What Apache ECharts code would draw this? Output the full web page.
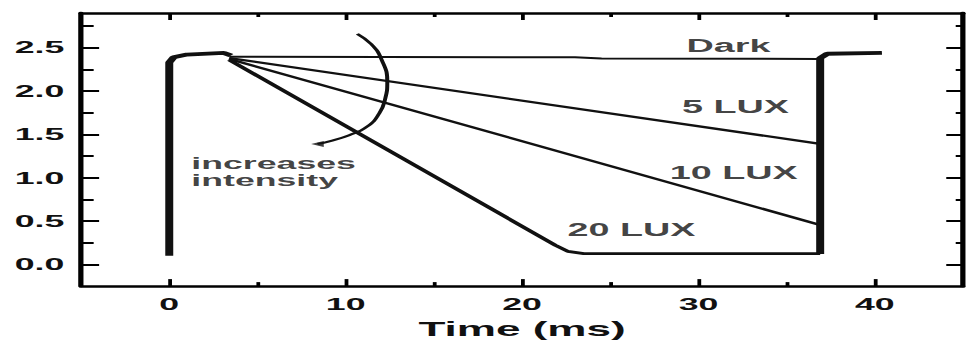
<!DOCTYPE html>
<html><head><meta charset="utf-8">
<script src="https://cdn.jsdelivr.net/npm/echarts@6/dist/echarts.min.js"></script>
<style>
html,body{margin:0;padding:0;background:#fff;overflow:hidden;}
#wrap{width:966px;height:344px;overflow:hidden;}
#chart{width:460px;height:344px;transform:scaleX(2.1);transform-origin:0 0;}
</style></head>
<body><div id="wrap"><div id="chart"></div></div>
<script>
// ---- axis ticks / labels ----
const xMajor = [0, 10, 20, 30, 40];
const xMinor = [5, 15, 25, 35];
const yMajor = [0, 0.5, 1, 1.5, 2, 2.5];
const yMinor = [0.25, 0.75, 1.25, 1.75, 2.25, 2.75];

// ---- traces (Time ms, signal) ----
const riseX = [0, 0, 0.25, 1.0, 3.1, 3.5];
const riseY = [0.1, 2.33, 2.39, 2.42, 2.44, 2.41];
const darkX = [3.4, 23.0, 24.5, 36.9];
const darkY = [2.395, 2.39, 2.375, 2.37];
const lux5X = [3.4, 36.9];
const lux5Y = [2.38, 1.39];
const lux10X = [3.4, 36.9];
const lux10Y = [2.37, 0.455];
const lux20X = [3.4, 21.9, 22.6, 23.5, 36.9];
const lux20Y = [2.36, 0.22, 0.15, 0.125, 0.125];
const fallX = [36.9, 36.9, 37.3, 40.4];
const fallY = [0.12, 2.38, 2.43, 2.44];

// ---- "increases intensity" curved arrow ----
const arcX = [10.66, 11.45, 12.02, 12.36, 12.24, 11.9, 11.22, 10.2, 9.07, 8.4];
const arcY = [2.66, 2.54, 2.37, 2.105, 1.91, 1.74, 1.59, 1.49, 1.42, 1.39];

// ---- text annotations ----
const noteText = ['Dark', '5 LUX', '10 LUX', '20 LUX'];
const noteX = [31.7, 32.1, 32.0, 26.2];
const noteY = [2.52, 1.816, 1.06, 0.40];
const introText = ['increases', 'intensity'];
const introX = [1.25, 1.25];
const introY = [1.17, 0.975];

const zip = (a, b) => a.map((v, i) => [v, b[i]]);
const FONT = 'Liberation Sans, Arial, sans-serif';
const INK = '#111';

function xAx(pos, ticks, len, showLine, labels) {
  return {
    type: 'value', position: pos, min: -5, max: 45,
    axisLine: { show: showLine, onZero: false, lineStyle: { color: '#000', width: 2.5 } },
    axisTick: { show: true, inside: true, length: len, customValues: ticks, lineStyle: { color: '#000', width: 1.8 } },
    axisLabel: labels ? { show: true, customValues: ticks, fontSize: 17, fontWeight: 'bold', fontFamily: FONT, color: INK, margin: 10 } : { show: false },
    splitLine: { show: false },
    name: labels ? 'Time (ms)' : '',
    nameLocation: 'middle', nameGap: 27,
    nameTextStyle: { fontSize: 21, fontWeight: 'bold', fontFamily: FONT, color: INK }
  };
}
function yAx(pos, ticks, len, showLine, labels) {
  return {
    type: 'value', position: pos, min: -0.25, max: 2.9,
    axisLine: { show: showLine, onZero: false, lineStyle: { color: '#000', width: 2.5 } },
    axisTick: { show: true, inside: true, length: len, customValues: ticks, lineStyle: { color: '#000', width: 2 } },
    axisLabel: labels ? { show: true, customValues: ticks, formatter: v => v.toFixed(1), fontSize: 17, fontWeight: 'bold', fontFamily: FONT, color: INK, margin: 8 } : { show: false },
    splitLine: { show: false }
  };
}
function trace(name, xs, ys, w) {
  return { name, type: 'line', data: zip(xs, ys), symbol: 'none', lineStyle: { color: INK, width: w }, z: 3, animation: false };
}

const chart = echarts.init(document.getElementById('chart'), null, { renderer: 'svg' });
chart.setOption({
  animation: false,
  backgroundColor: '#fff',
  grid: { left: 38.6, right: 1.4, top: 13, bottom: 54, containLabel: false },
  xAxis: [
    xAx('bottom', xMajor, 7, true, true),
    xAx('bottom', xMinor, 4, false, false),
    xAx('top', xMajor, 7, true, false),
    xAx('top', xMinor, 4, false, false)
  ],
  yAxis: [
    yAx('left', yMajor, 8.6, true, true),
    yAx('left', yMinor, 6, false, false),
    yAx('right', yMajor, 8, true, false),
    yAx('right', yMinor, 3.5, false, false)
  ],
  series: [
    trace('Dark', darkX, darkY, 2),
    trace('5 LUX', lux5X, lux5Y, 2.2),
    trace('10 LUX', lux10X, lux10Y, 2.2),
    trace('20 LUX', lux20X, lux20Y, 2.7),
    trace('Light on', riseX, riseY, 3.8),
    trace('Light off', fallX, fallY, 3.8),
    { name: 'arrow', type: 'line', data: zip(arcX, arcY), smooth: true, symbol: 'none', lineStyle: { color: INK, width: 1.9 } },
    { name: 'arrowhead', type: 'scatter', data: [[arcX[arcX.length - 1], arcY[arcY.length - 1]]], symbol: 'triangle', symbolRotate: 90, symbolSize: [6, 6], itemStyle: { color: INK } },
    { name: 'notes', type: 'scatter', data: zip(noteX, noteY), symbolSize: 0,
      label: { show: true, position: 'inside', formatter: p => noteText[p.dataIndex], fontSize: 18, fontWeight: 'bold', fontFamily: FONT, color: INK } },
    { name: 'intro', type: 'scatter', data: zip(introX, introY), symbolSize: 0,
      label: { show: true, position: 'inside', align: 'left', formatter: p => introText[p.dataIndex], fontSize: 17, lineHeight: 17, fontWeight: 'bold', fontFamily: FONT, color: INK } }
  ]
});
</script>
</body></html>
